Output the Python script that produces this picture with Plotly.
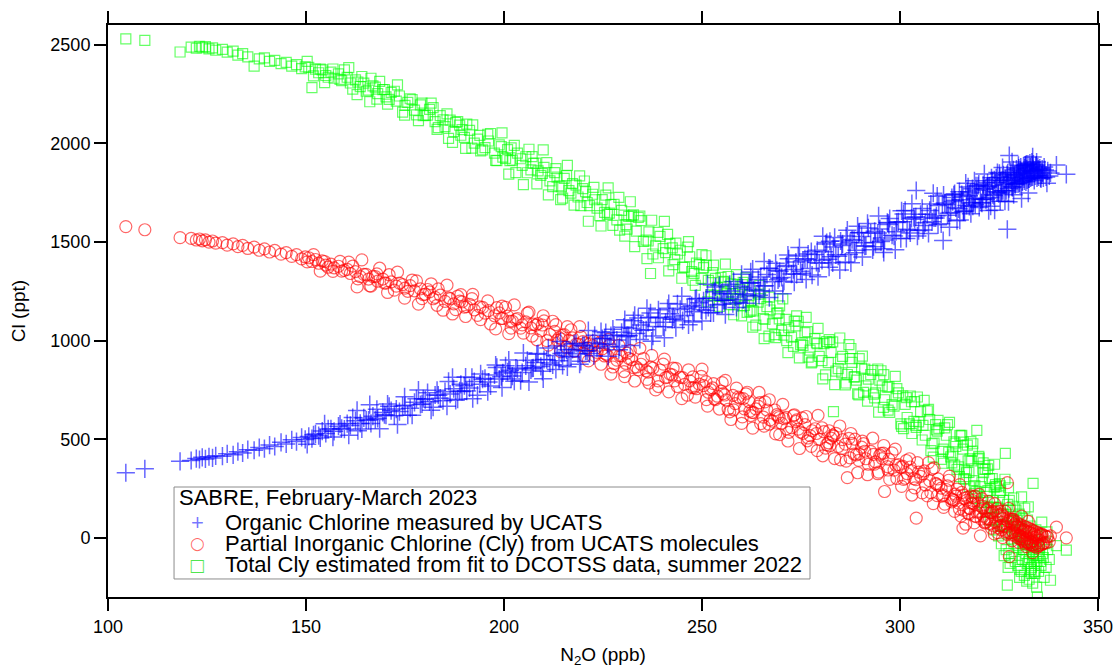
import plotly.graph_objects as go

# N2O (ppb), shared by all three series
n2o = [
    104.5, 109.3,
    118.2, 121.0, 122.3, 123.1, 123.8, 124.6, 125.5, 126.4, 127.2, 128.9, 130.1, 131.6, 132.8, 134.0, 135.3, 136.9,
    138.2, 139.5, 140.8, 142.1, 143.7, 145.0, 146.4, 147.6, 148.9, 149.8,
    150.7, 151.5, 152.4, 153.2, 154.1, 155.0, 156.3, 157.1, 158.2, 159.0, 160.4, 161.2, 162.5, 163.7, 164.6, 165.8,
    166.9, 168.1, 169.4, 170.2, 171.5, 172.8, 173.6, 175.0, 176.3, 177.4, 178.9, 180.1, 181.2, 182.6, 183.9, 185.1,
    186.4, 187.3, 188.8, 190.0, 191.3, 192.5, 193.9, 195.2, 196.1, 197.6, 198.8, 199.7,
    200.9, 202.1, 203.4, 204.6, 205.5, 206.8, 208.0, 209.3, 210.1, 211.6, 212.8, 213.9, 215.2, 216.4, 217.3, 218.7,
    219.9, 221.0, 222.4, 223.5, 224.8, 226.1, 227.0, 228.5, 229.7, 230.8, 232.2, 233.4, 234.6, 235.9, 237.0, 238.3,
    239.4, 240.8, 241.9, 243.1, 244.5, 245.6, 246.9, 248.0, 249.3,
    250.4, 251.6, 252.7, 253.9, 254.8, 256.1, 257.3, 258.4, 259.6, 260.7, 261.9, 263.0, 264.2, 265.5, 266.4, 267.8,
    268.9, 270.1, 271.2, 272.6, 273.7, 274.9, 276.0, 277.3, 278.5, 279.6, 280.8, 281.9, 283.2, 284.4, 285.5, 286.7,
    287.9, 289.0, 290.3, 291.4, 292.6, 293.8, 294.9, 296.1, 297.2, 298.5, 299.6,
    300.7, 301.8, 302.9, 304.1, 305.2, 306.4, 307.5, 308.6, 309.8, 310.9,
    311.7, 312.8, 313.9, 314.8, 315.9, 316.8, 317.7, 318.6, 319.4, 320.3,
    321.1, 321.9, 322.6, 323.4, 324.1, 324.8, 325.4, 326.0, 326.6, 327.1,
    327.6, 328.1, 328.5, 328.9, 329.3, 329.7, 330.1, 330.4, 330.8, 331.1,
    331.5, 331.8, 332.2, 332.5, 332.9, 333.2, 333.6, 333.9, 334.3, 334.7,
    335.2, 335.8, 336.4, 337.1, 338.0, 339.5, 342.0,
    326.3, 327.8, 329.0, 330.6, 331.3, 332.0, 332.7, 333.4, 334.0, 334.9, 335.5, 330.2, 328.4, 331.9, 333.1, 329.5,
    327.3, 334.5, 336.0, 325.7,
    155.6, 167.5, 179.6, 189.4, 201.5, 207.4, 214.5, 220.6, 225.4, 231.5, 236.4, 242.5, 247.4, 255.4, 262.6, 269.5,
    275.5, 282.6, 288.4, 295.5, 303.5, 309.2, 313.3, 318.1, 322.2,
    150.3, 151.9, 153.6, 154.7, 156.8, 158.6, 159.7, 161.8, 163.1, 165.2, 166.4, 167.9, 169.8, 171.0, 172.3, 174.4,
    175.7, 177.9, 179.3, 180.7,
    182.1, 183.4, 184.6, 186.0, 187.8, 189.1, 190.6, 191.9, 193.3, 194.6, 196.6, 198.2, 199.3, 200.4, 201.8, 203.0,
    204.2, 205.9, 207.1, 208.6,
    209.7, 210.8, 212.3, 213.4, 214.8, 215.8, 216.9, 218.2, 219.4, 220.3, 221.6, 222.9, 224.2, 225.7, 226.6, 227.8,
    229.2, 230.3, 231.1, 232.7,
    233.9, 235.2, 236.6, 237.6, 238.9, 240.2, 241.3, 242.7, 243.8, 245.1, 246.3, 247.7, 248.6, 249.8, 251.1, 252.2,
    253.4, 255.1, 256.6, 257.8,
    259.1, 260.2, 261.4, 262.3, 263.6, 264.8, 265.9, 267.2, 268.4, 269.6, 270.7, 271.9, 273.1, 274.3, 275.3, 276.6,
    277.8, 279.1, 280.3, 281.5,
    282.3, 283.8, 285.0, 286.2, 287.4, 288.6, 289.7, 290.8, 292.0, 293.3, 294.4, 295.8, 296.8, 298.0, 299.2, 300.2,
    301.3, 302.4, 303.7, 304.7,
    305.8, 306.9, 308.1, 309.4, 310.4, 311.3, 312.3, 313.6, 314.4, 315.4, 316.3, 317.2, 318.9, 319.9, 320.7, 321.5,
    322.9, 323.8, 324.5, 325.1,
    160.8, 162.9, 164.1, 166.1, 168.6, 170.6, 173.1, 174.9, 176.8, 178.4, 181.6, 183.1, 185.6, 187.0, 188.3, 190.3,
    192.1, 194.1, 195.9, 197.9,
    199.5, 201.2, 202.6, 204.9, 206.3, 208.3, 209.9, 211.2, 213.1, 214.3, 216.0, 217.7, 219.1, 221.3, 222.7, 224.5,
    226.3, 227.5, 229.0, 230.5,
    231.9, 233.0, 234.3, 236.1, 237.3, 239.0, 240.5, 241.6, 243.4, 244.9, 246.6, 248.3, 250.0, 251.4, 252.9, 254.4,
    255.9, 257.0, 258.7, 260.0,
    261.1, 262.8, 264.4, 265.7, 267.0, 268.6, 270.4, 271.7, 273.3, 274.6, 276.3, 277.6, 279.3, 280.5, 282.1, 283.5,
    284.8, 286.4, 287.6, 289.3,
    290.5, 291.8, 293.1, 294.6, 295.9, 297.4, 298.8, 300.4, 301.6, 303.0, 304.4, 305.6, 307.2, 308.4, 309.6, 311.0,
    312.5, 313.8, 315.1, 316.6,
    317.9, 318.8, 320.0, 321.3, 322.4, 323.1, 323.9, 324.6, 325.3, 325.9, 326.5, 327.0, 327.4, 328.3, 328.7, 329.9,
    330.7, 331.6, 332.4, 333.5,
    315.6, 316.1, 317.0, 317.5, 318.3, 319.0, 319.7, 320.5, 321.0, 321.7, 322.1, 322.8, 323.3, 323.7, 324.3, 324.9,
    325.2, 325.6, 326.1, 326.8,
    327.2, 327.5, 327.9, 328.2, 328.6, 329.1, 329.4, 329.8, 330.0, 330.3, 330.5, 330.9, 331.2, 331.4, 331.7, 332.1,
    332.3, 332.6, 332.8, 333.0,
    333.3, 333.5, 333.7, 334.1, 334.4, 334.6, 334.8, 335.0, 335.3, 335.6, 335.9, 336.2, 336.6, 336.9, 337.3, 337.7,
    328.8, 331.0, 333.8, 326.9,
    251.0, 253.1, 255.7, 258.0, 260.4, 262.1, 264.6, 266.9, 269.2, 271.4, 273.9, 276.8, 278.9, 281.2, 283.0, 285.3,
    287.1, 289.6, 291.1, 293.6,
    295.2, 297.0, 299.0, 300.9, 302.6, 304.0, 306.1, 307.8, 309.0, 310.7, 312.0, 313.1, 314.1, 315.0, 316.0, 317.4,
    318.4, 319.2, 320.9, 322.0,
]

# Organic chlorine measured by UCATS (ppt)
organic_cl = [
    330, 350,
    388, 392, 402, 397, 408, 400, 411, 405, 416, 414, 426, 421, 437, 430, 447, 444, 458, 452, 470, 463, 484, 476,
    497, 488, 509, 499,
    514, 503, 527, 518, 541, 529, 552, 540, 566, 555, 579, 570, 594, 580, 608, 597, 617, 606, 636, 622, 645, 653,
    640, 672, 657, 687, 676, 701, 690, 724, 708, 741, 729, 756, 745, 771, 760, 792, 779, 808, 790, 826, 805, 836,
    842, 820, 856, 838, 872, 851, 889, 869, 904, 886, 925, 898, 940, 921, 955, 933, 976, 948, 990, 962, 1010, 981,
    1025, 1003, 1042, 1019, 1063, 1036, 1079, 1055, 1140, 1072, 1118, 1093, 1136, 1109, 1158, 1127, 1172, 1146, 1192,
    1201, 1168, 1215, 1180, 1238, 1205, 1252, 1221, 1276, 1238, 1292, 1258, 1310, 1277, 1335, 1298, 1356, 1320,
    1375, 1337, 1398, 1352, 1415, 1366, 1436, 1392, 1450, 1412, 1475, 1428, 1490, 1560, 1512, 1458, 1528, 1480,
    1545, 1497, 1566, 1510, 1588, 1530, 1602,
    1602, 1565, 1620, 1761, 1640, 1598, 1660, 1622, 1685, 1507,
    1690, 1650, 1712, 1668, 1730, 1685, 1748, 1700, 1762, 1715,
    1770, 1722, 1785, 1740, 1800, 1752, 1810, 1760, 1820, 1564,
    1938, 1815, 1780, 1840, 1795, 1850, 1800, 1862, 1810, 1845,
    1875, 1805, 1860, 1820, 1880, 1830, 1868, 1812, 1885, 1838,
    1862, 1840, 1880, 1798, 1850, 1890, 1843,
    1790, 1830, 1795, 1855, 1820, 1870, 1835, 1890, 1850, 1870, 1825, 1840, 1775, 1895, 1860, 1825, 1810, 1905,
    1850, 1760,
    552, 600, 705, 742, 850, 862, 935, 948, 1010, 1025, 1092, 1108, 1178, 1204, 1295, 1316, 1405, 1425, 1508, 1520,
    1625, 1632, 1705, 1698, 1778,
    474, 522, 506, 578, 511, 577, 551, 610, 543, 597, 580, 652, 624, 667, 619, 668, 622, 705, 679, 736,
    662, 723, 695, 793, 697, 778, 744, 813, 723, 804, 770, 864, 817, 872, 805, 861, 797, 900, 860, 934,
    844, 903, 877, 973, 874, 953, 917, 986, 895, 973, 934, 1027, 984, 1040, 971, 1028, 968, 1068, 1026, 1101,
    1115, 1053, 1118, 1023, 1114, 1070, 1164, 1120, 1186, 1101, 1164, 1094, 1214, 1156, 1215, 1141, 1272, 1184,
    1237, 1187,
    1193, 1267, 1231, 1348, 1224, 1323, 1278, 1365, 1251, 1351, 1301, 1415, 1360, 1429, 1342, 1413, 1332, 1458,
    1407, 1497,
    1503, 1435, 1505, 1398, 1497, 1445, 1548, 1496, 1571, 1476, 1545, 1466, 1599, 1534, 1599, 1517, 1660, 1559,
    1615, 1558,
    1561, 1641, 1602, 1732, 1592, 1698, 1645, 1739, 1608, 1714, 1655, 1779, 1720, 1794, 1697, 1769, 1681, 1815,
    1755, 1848,
    520, 646, 552, 675, 553, 678, 574, 715, 622, 749, 647, 748, 667, 814, 703, 815, 705, 831, 741, 876,
    762, 901, 794, 937, 790, 931, 806, 962, 854, 995, 867, 983, 880, 1051, 923, 1045, 921, 1058, 954, 1106,
    975, 1128, 1006, 1164, 997, 1156, 1014, 1188, 1066, 1225, 1080, 1211, 1099, 1285, 1141, 1279, 1132, 1285,
    1168, 1336,
    1189, 1362, 1230, 1401, 1218, 1392, 1238, 1434, 1296, 1472, 1310, 1451, 1324, 1529, 1372, 1523, 1358, 1530,
    1394, 1580,
    1424, 1594, 1460, 1632, 1447, 1619, 1460, 1658, 1518, 1694, 1530, 1670, 1543, 1747, 1587, 1738, 1575, 1745,
    1611, 1798,
    1643, 1810, 1675, 1845, 1659, 1825, 1661, 1852, 1707, 1877, 1707, 1841, 1704, 1906, 1740, 1889, 1720, 1887,
    1748, 1931,
    1740, 1660, 1755, 1680, 1770, 1690, 1785, 1700, 1790, 1715, 1800, 1725, 1810, 1735, 1825, 1745, 1830, 1750,
    1840, 1760,
    1850, 1770, 1855, 1780, 1865, 1790, 1870, 1795, 1875, 1800, 1880, 1805, 1885, 1810, 1890, 1815, 1895, 1820,
    1900, 1825,
    1905, 1830, 1895, 1835, 1890, 1825, 1880, 1830, 1875, 1820, 1870, 1825, 1865, 1830, 1860, 1835, 1830, 1850,
    1860, 1800,
    1153, 1248, 1205, 1299, 1208, 1292, 1252, 1367, 1308, 1381, 1336, 1439, 1396, 1490, 1394, 1482, 1436, 1547,
    1479, 1554,
    1502, 1596, 1552, 1642, 1546, 1627, 1584, 1692, 1622, 1691, 1636, 1725, 1673, 1755, 1653, 1734, 1682, 1784,
    1717, 1781,
]

# Partial inorganic chlorine (Cly) from UCATS molecules (ppt)
partial_cly = [
    1578, 1562,
    1522, 1518, 1510, 1515, 1506, 1511, 1499, 1505, 1494, 1497, 1484, 1490, 1476, 1483, 1467, 1474, 1458, 1465,
    1449, 1457, 1438, 1446, 1427, 1436, 1414, 1424,
    1420, 1401, 1411, 1392, 1404, 1383, 1388, 1369, 1377, 1352, 1361, 1340, 1350, 1324, 1336, 1312, 1325, 1301,
    1312, 1291, 1298, 1276, 1291, 1266, 1279, 1252, 1262, 1235, 1247, 1219, 1230, 1199, 1213, 1186, 1200, 1170,
    1184, 1156, 1171, 1139, 1152, 1126, 1140, 1112,
    1124, 1098, 1112, 1080, 1095, 1064, 1078, 1049, 1100, 1031, 1047, 1015, 1030, 1001, 1014, 982, 995, 962, 974,
    940, 958, 925, 830, 901, 922, 884, 903, 866, 880, 847, 866, 750, 851, 812, 830, 796, 814, 778, 796, 762, 779,
    772, 738, 760, 718, 744, 699, 600, 680, 708, 654, 690, 635, 668, 612, 648, 592, 625, 581, 611, 558, 590, 536,
    574, 518, 553, 499, 538, 482, 516, 463, 498, 305, 479, 421, 460, 401, 438, 385, 419, 235, 398, 343, 371,
    362, 325, 340, 100, 312, 268, 290, 355, 265, 218,
    245, 200, 222, 176, 49, 190, 148, 175, 130, 10,
    110, 140, 95, 128, 80, 112, 62, 98, 55, 280,
    -95, 78, 30, 65, 20, 58, 12, 50, 5, 42,
    -10, 35, 0, 28, -20, 22, -15, 15, -30, 10,
    -12, 20, -25, 5, 10, 54, 0,
    60, 25, 70, -5, 40, -20, 30, -35, 20, -40, 15, 10, 95, -45, -25, 55, 85, 0, -30, 120,
    1372, 1325, 1233, 1196, 1098, 1083, 1008, 988, 922, 910, 840, 826, 762, 731, 636, 610, 530, 505, 425, 402,
    300, 272, 195, 175, 98,
    1399, 1436, 1352, 1401, 1351, 1402, 1356, 1378, 1313, 1336, 1276, 1338, 1292, 1334, 1256, 1284, 1250, 1303,
    1213, 1259,
    1212, 1262, 1154, 1217, 1157, 1233, 1172, 1213, 1128, 1168, 1084, 1167, 1112, 1169, 1063, 1107, 1063, 1139,
    1023, 1086,
    1079, 1000, 1098, 1002, 1027, 967, 1055, 982, 1020, 921, 983, 924, 990, 931, 977, 884, 923, 843, 936, 863,
    852, 909, 785, 860, 796, 881, 815, 860, 767, 812, 723, 816, 756, 819, 701, 751, 701, 787, 652, 722,
    713, 613, 738, 620, 654, 579, 689, 598, 648, 523, 604, 535, 620, 551, 608, 492, 543, 442, 558, 473,
    467, 530, 395, 475, 405, 500, 426, 478, 373, 423, 325, 429, 361, 431, 301, 358, 302, 401, 253, 333,
    324, 213, 348, 214, 252, 171, 292, 190, 247, 110, 200, 124, 211, 135, 199, 75, 127, 20, 150, 61,
    1398, 1272, 1409, 1277, 1367, 1244, 1347, 1215, 1307, 1185, 1288, 1179, 1281, 1135, 1225, 1122, 1234, 1106,
    1201, 1059,
    1175, 1035, 1181, 1038, 1144, 1004, 1126, 977, 1081, 944, 1071, 945, 1071, 897, 998, 880, 1006, 866, 976, 817,
    950, 795, 961, 803, 925, 767, 906, 740, 859, 706, 852, 713, 855, 668, 782, 653, 798, 639, 759, 580,
    730, 556, 737, 566, 700, 527, 677, 491, 624, 453, 615, 464, 621, 416, 543, 402, 567, 389, 529, 330,
    490, 320, 505, 333, 468, 296, 450, 261, 392, 217, 381, 228, 381, 173, 299, 154, 313, 134, 270, 69,
    213, 76, 220, 79, 184, 49, 173, 26, 135, 1, 135, 18, 150, -15, 93, -23, 110, -30, 83, -75,
    230, 140, 205, 120, 190, 110, 175, 95, 160, 80, 150, 70, 135, 60, 130, 50, 115, 40, 110, 30,
    100, 25, 95, 15, 85, 10, 80, 0, 70, -5, 65, -15, 60, -20, 55, -25, 50, -30, 45, -35,
    40, -40, 35, -45, 30, -50, 25, -40, 20, -35, 15, -30, 10, -25, 5, -20, 52, 30, 3, 72,
    792, 705, 724, 649, 706, 642, 685, 576, 617, 553, 598, 506, 529, 455, 521, 453, 504, 393, 439, 374,
    428, 344, 368, 296, 359, 295, 339, 229, 276, 212, 263, 182, 211, 146, 216, 151, 206, 108, 151, 95,
]

# Total Cly estimated from fit to DCOTSS data (ppt)
total_cly = [
    2530, 2522,
    2463, 2488, 2482, 2492, 2485, 2490, 2479, 2484, 2472, 2476, 2462, 2468, 2447, 2455, 2438, 2392, 2428, 2433,
    2416, 2421, 2404, 2411, 2392, 2399, 2379, 2388,
    2385, 2283, 2376, 2358, 2372, 2344, 2361, 2330, 2352, 2318, 2335, 2306, 2322, 2288, 2305, 2270, 2291, 2252,
    2272, 2236, 2258, 2214, 2240, 2193, 2226, 2168, 2195, 2142, 2172, 2110, 2141, 2085, 2118, 2060, 2092, 2030,
    2066, 2001, 2040, 1978, 2012, 1950, 1992, 1930,
    1968, 1915, 1950, 1888, 1932, 1865, 1900, 1838, 1878, 1810, 1852, 1785, 1822, 1760, 1796, 1728, 1770, 1700,
    1742, 1672, 1715, 1640, 1690, 1612, 1660, 1588, 1632, 1555, 1608, 1510, 1340, 1480, 1528, 1446, 1492, 1410,
    1458, 1372, 1425, 1340, 1385,
    1370, 1305, 1345, 1270, 1320, 1238, 1288, 1210, 1258, 1178, 1228, 1150, 1195, 1112, 1172, 1085, 1138, 1052,
    1108, 1018, 1075, 980, 1040, 952, 1010, 920, 985, 888, 640, 858, 920, 828, 890, 800, 860, 770, 828, 735, 800,
    700, 765, 668, 735,
    720, 610, 690, 560, 640, 520, 600, 480, 555, 450,
    520, 410, 480, 360, 450, 330, 400, 290, 545, 260,
    330, 230, 300, 190, 270, 150, 240, 120, 428, -240,
    190, 60, 160, 30, 140, -40, 120, 0, 100, -60,
    150, -80, 90, -120, 60, -150, 276, -170, 40, -301,
    -60, 80, -200, 30, -215, -40, -62,
    -90, -130, 20, -170, -60, -220, -100, -40, -140, -90, -120, -200, 80, -10, -180, 40, -150, -250, -80, 60,
    2335, 2285, 2140, 2070, 1912, 1898, 1780, 1755, 1650, 1630, 1505, 1470, 1350, 1300, 1155, 1110, 975, 940,
    815, 770, 590, 548, 420, 390, 240,
    2416, 2342, 2376, 2308, 2377, 2324, 2372, 2275, 2311, 2264, 2330, 2224, 2273, 2223, 2264, 2158, 2208, 2144,
    2204, 2143,
    2181, 2080, 2119, 2025, 2106, 2041, 2097, 1976, 2021, 1967, 2050, 1912, 1983, 1924, 1977, 1852, 1922, 1851,
    1933, 1860,
    1848, 1902, 1781, 1829, 1722, 1836, 1748, 1788, 1684, 1809, 1684, 1714, 1634, 1737, 1646, 1691, 1560, 1636,
    1565, 1637,
    1624, 1503, 1551, 1439, 1549, 1466, 1538, 1385, 1439, 1371, 1474, 1306, 1393, 1315, 1382, 1232, 1315, 1229,
    1325, 1238,
    1221, 1284, 1143, 1203, 1078, 1213, 1107, 1155, 1030, 1176, 1028, 1065, 971, 1098, 988, 1045, 892, 985, 898,
    995,
    990, 845, 906, 775, 909, 817, 909, 737, 805, 728, 856, 661, 764, 675, 756, 578, 677, 578, 691, 588,
    570, 644, 477, 541, 398, 557, 434, 487, 347, 517, 345, 390, 265, 413, 282, 347, 152, 257, 156, 275,
    2384, 2247, 2339, 2211, 2314, 2199, 2296, 2143, 2222, 2115, 2204, 2071, 2149, 2005, 2110, 1975, 2094, 1962,
    2046, 1914,
    2053, 1844, 1990, 1791, 1970, 1795, 1967, 1739, 1872, 1715, 1888, 1687, 1835, 1605, 1777, 1581, 1774, 1584,
    1726, 1530,
    1704, 1476, 1631, 1416, 1610, 1420, 1604, 1353, 1494, 1316, 1502, 1280, 1436, 1197, 1383, 1173, 1388, 1182,
    1334, 1125,
    1318, 1068, 1236, 1010, 1220, 1015, 1211, 939, 1099, 912, 1118, 887, 1062, 806, 1005, 777, 1013, 785, 960, 730,
    921, 693, 849, 637, 827, 636, 819, 565, 711, 529, 714, 496, 651, 409, 595, 378, 585, 369, 520, 298,
    488, 225, 404, 149, 367, 154, 373, 84, 263, 66, 297, 54, 254, -5, 202, -50, 208, -32, 157, -86,
    520, 300, 470, 260, 440, 200, 400, 180, 380, 130, 350, 90, 300, 40, 260, 10, 230, -30, 190, -60,
    170, -80, 140, -100, 110, -120, 90, -140, 60, -160, 40, -110, 20, -190, 0, -130, -20, -210, -40, -160,
    -60, -230, -80, -180, -100, -120, -20, -170, -50, -140, 10, -100, -30, -150, -60, -110, -30, -60, -120, 60,
    1430, 1228, 1296, 1131, 1295, 1148, 1280, 1023, 1141, 1000, 1125, 916, 989, 826, 993, 836, 980, 725, 855, 710,
    847, 647, 719, 554, 719, 570, 697, 442, 574, 438, 574, 380, 463, 310, 485, 332, 477, 236, 348, 210,
]

x_ticks = [100, 150, 200, 250, 300, 350]
y_ticks = [0, 500, 1000, 1500, 2000, 2500]

legend_title = "SABRE, February-March 2023"
series_names = [
    "Organic Chlorine measured by UCATS",
    "Partial Inorganic Chlorine (Cly) from UCATS molecules",
    "Total Cly estimated from fit to DCOTSS data, summer 2022",
]

assert len(n2o) == len(organic_cl) == len(partial_cly) == len(total_cly)

FONT = "Liberation Sans, Arial, Helvetica, sans-serif"
BLUE, RED, GREEN = "#0000ff", "#ff0000", "#00ff00"

fig = go.Figure()
fig.add_trace(go.Scatter(
    x=n2o, y=total_cly, mode="markers", name=series_names[2], showlegend=False,
    marker=dict(symbol="square-open", size=10, color=GREEN, opacity=0.6,
                line=dict(width=1.2, color=GREEN)),
))
fig.add_trace(go.Scatter(
    x=n2o, y=partial_cly, mode="markers", name=series_names[1], showlegend=False,
    marker=dict(symbol="circle-open", size=12, color=RED, opacity=0.6,
                line=dict(width=1.2, color=RED)),
))
fig.add_trace(go.Scatter(
    x=n2o, y=organic_cl, mode="markers", name=series_names[0], showlegend=False,
    marker=dict(symbol="cross-thin-open", size=13, color=BLUE, opacity=0.6,
                line=dict(width=1.5, color=BLUE)),
))

axis_common = dict(
    showgrid=False, zeroline=False, showline=True, linecolor="black", linewidth=2,
    ticks="outside", ticklen=12, tickwidth=2, tickcolor="black", mirror="ticks",
    tickfont=dict(family=FONT, size=18, color="black"), automargin=False,
)

# legend panel (paper coordinates of the plot area)
box_x0, box_x1, box_y0, box_y1 = 0.0667, 0.7091, 0.0315, 0.1923
text_x, sym_x = 0.1162, 0.0899
row_y = [0.1311, 0.0943, 0.0568]
title_y = 0.1740

shapes = [dict(type="rect", xref="paper", yref="paper", x0=box_x0, x1=box_x1, y0=box_y0, y1=box_y1,
               line=dict(color="#8c8c8c", width=1), fillcolor="white", layer="above")]
annotations = [dict(xref="paper", yref="paper", x=0.0697, y=title_y, xanchor="left", yanchor="middle",
                    text=legend_title, showarrow=False, font=dict(family=FONT, size=22, color="black"))]
symbols = [("+", "rgba(0,0,255,0.55)", 22, "Liberation Sans"),
           ("○", "rgba(255,0,0,0.6)", 17, "DejaVu Sans"),
           ("□", "rgba(0,220,0,0.7)", 17, "DejaVu Sans")]
for name, y, (glyph, col, sz, fam) in zip(series_names, row_y, symbols):
    annotations.append(dict(xref="paper", yref="paper", x=sym_x, y=y, xanchor="center", yanchor="middle",
                            text=glyph, showarrow=False, font=dict(family=fam, size=sz, color=col)))
    annotations.append(dict(xref="paper", yref="paper", x=text_x, y=y, xanchor="left", yanchor="middle",
                            text=name, showarrow=False, font=dict(family=FONT, size=22, color="black")))

fig.update_layout(
    width=1114, height=668, autosize=False,
    margin=dict(l=108, r=16, t=25, b=71, autoexpand=False),
    paper_bgcolor="white", plot_bgcolor="white",
    font=dict(family=FONT, color="black"),
    xaxis=dict(range=[100, 350], tickvals=x_ticks,
               title=dict(text="N<sub>2</sub>O (ppb)", font=dict(family=FONT, size=19), standoff=15),
               **axis_common),
    yaxis=dict(range=[-300, 2600], tickvals=y_ticks,
               title=dict(text="Cl (ppt)", font=dict(family=FONT, size=19), standoff=20),
               **axis_common),
    shapes=shapes,
    annotations=annotations,
    showlegend=False,
)

fig.write_html("out.html", config={"displayModeBar": False},
               post_script="document.body.style.margin='0px';")
